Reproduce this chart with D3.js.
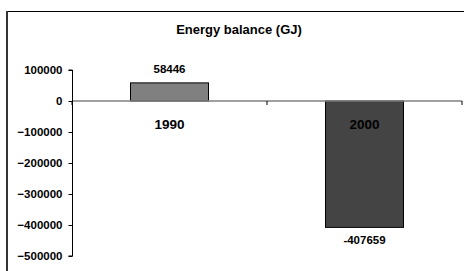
<!DOCTYPE html>
<html>
<head>
<meta charset="utf-8">
<script src="https://cdn.jsdelivr.net/npm/d3@7"></script>
<style>
  body { margin: 0; background: #fff; }
  text { font-family: Arial, 'Liberation Sans', sans-serif; font-weight: bold; fill: #000; }
</style>
</head>
<body>
<svg id="chart" width="464" height="271"></svg>
<script>
const categories = ['1990', '2000']
const values = [58446, -407659]
const tickValues = [100000, 0, -100000, -200000, -300000, -400000, -500000]
const barColors = ['#808080', '#444444']

const svg = d3.select('#chart')

// outer frame (top + left visible)
svg.append('line')
  .attr('x1', 7).attr('x2', 464).attr('y1', 11.5).attr('y2', 11.5)
  .attr('stroke', '#000').attr('stroke-width', 1)
svg.append('line')
  .attr('x1', 7).attr('x2', 7).attr('y1', 11).attr('y2', 271)
  .attr('stroke', '#333').attr('stroke-width', 2)

svg.append('text')
  .attr('x', 239).attr('y', 34)
  .attr('text-anchor', 'middle')
  .style('font-size', '13px')
  .text('Energy balance (GJ)')

const x = d3.scaleBand().domain(categories).range([72, 462]).paddingInner(0.6).paddingOuter(0.3)
const y = d3.scaleLinear().domain([-500000, 100000]).range([256, 70])

// bars
svg.selectAll('rect.bar').data(values).enter()
  .append('rect')
  .attr('class', 'bar')
  .attr('x', (d, i) => x(categories[i]))
  .attr('width', x.bandwidth())
  .attr('y', d => y(Math.max(0, d)))
  .attr('height', d => Math.abs(y(d) - y(0)))
  .attr('fill', (d, i) => barColors[i])
  .attr('stroke', '#000')
  .attr('stroke-width', 1)

// zero line (category axis)
svg.append('line')
  .attr('x1', 72).attr('x2', 462).attr('y1', y(0)).attr('y2', y(0))
  .attr('stroke', '#808080').attr('stroke-width', 1.5)
const catTicks = [72, 267, 462]
svg.selectAll('line.ctick').data(catTicks).enter()
  .append('line')
  .attr('x1', d => d).attr('x2', d => d)
  .attr('y1', y(0)).attr('y2', y(0) + 4)
  .attr('stroke', '#000')

// y axis
const yAxis = d3.axisLeft(y).tickValues(tickValues).tickSize(4).tickPadding(6).tickFormat(d3.format('d'))
const ya = svg.append('g').attr('transform', 'translate(72.5,0)').call(yAxis)
ya.select('.domain').attr('d', `M-4,${y(100000)}H0V${y(-500000)}H-4`).attr('stroke', '#000')
ya.selectAll('text').style('font-size', '11.5px').style('font-family', 'Arial, Liberation Sans, sans-serif').style('font-weight', 'bold')

// value labels
svg.selectAll('text.val').data(values).enter()
  .append('text')
  .attr('class', 'val')
  .attr('x', (d, i) => x(categories[i]) + x.bandwidth() / 2)
  .attr('y', d => d >= 0 ? y(d) - 10 : y(d) + 17)
  .attr('text-anchor', 'middle')
  .style('font-size', '11.5px')
  .text(d => d)

// category labels
svg.selectAll('text.cat').data(categories).enter()
  .append('text')
  .attr('class', 'cat')
  .attr('x', d => x(d) + x.bandwidth() / 2)
  .attr('y', y(0) + 28)
  .attr('text-anchor', 'middle')
  .style('font-size', '13.5px')
  .text(d => d)
</script>
</body>
</html>
